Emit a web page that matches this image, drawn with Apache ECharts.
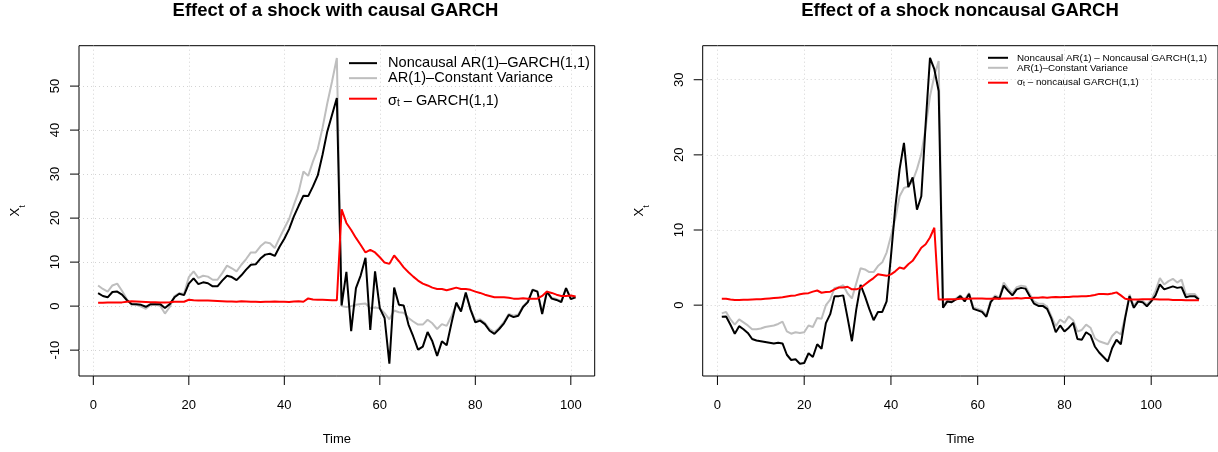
<!DOCTYPE html>
<html>
<head>
<meta charset="utf-8">
<script src="https://cdn.jsdelivr.net/npm/echarts@6/dist/echarts.min.js"></script>
<style>
  html, body { margin: 0; padding: 0; background: #ffffff; }
  #chart { width: 1218px; height: 452px; }
</style>
</head>
<body>
<div id="chart"></div>
<script>
// ---- Left panel: shock with causal GARCH (t = 1..101) ----
const causalNoncausalAR = [
  2.95, 2.3, 2.0, 3.2, 3.3, 2.6, 1.4, 0.5, 0.45, 0.3,
  -0.15, 0.45, 0.45, 0.45, -0.45, 0.45, 2.0, 2.8, 2.5, 5.1,
  6.3, 5.0, 5.4, 5.2, 4.5, 4.5, 5.8, 6.9, 6.6, 5.9,
  7.0, 8.3, 9.4, 9.5, 10.8, 11.7, 11.9, 11.4, 13.5, 15.3,
  17.5, 20.4, 22.8, 25.1, 25.0, 27.2, 29.7, 34.4, 39.7, 43.5,
  47.3, 0.15, 7.8, -5.7, 4.1, 7.0, 11.0, -5.4, 7.9, -0.5,
  -2.7, -13.1, 4.2, 0.3, 0.15, -4.2, -6.9, -9.9, -9.2, -5.9,
  -8.0, -11.3, -8.0, -8.9, -3.9, 0.8, -1.2, 3.1, -0.8, -3.7,
  -3.3, -4.1, -5.6, -6.3, -5.2, -3.9, -2.0, -2.5, -2.2, -0.2,
  0.9, 3.7, 3.3, -1.8, 3.3, 1.7, 1.4, 0.9, 4.1, 1.6,
  2.0
];
const causalConstVar = [
  4.7, 3.9, 3.3, 4.7, 5.1, 3.5, 1.6, 0.3, 0.3, -0.1,
  -0.6, 0.3, 0.3, 0.1, -1.7, -0.2, 2.3, 2.95, 2.8, 6.6,
  7.9, 6.4, 6.9, 6.7, 6.0, 6.0, 7.5, 9.2, 8.6, 7.9,
  9.4, 10.7, 12.2, 12.2, 13.6, 14.5, 14.3, 13.2, 15.5, 17.7,
  19.8, 23.0, 26.0, 30.6, 29.6, 32.9, 35.7, 40.5, 46.1, 51.1,
  56.4, 0.0, -0.2, 0.0, 0.3, 0.5, 0.6, -0.5, -0.3, -0.5,
  -1.6, -3.0, -1.0, -1.4, -1.5, -2.7, -3.5, -4.2, -4.2, -3.1,
  -3.9, -5.2, -4.1, -4.5, -2.3, 0.3, -0.9, 2.7, -0.6, -3.3,
  -3.0, -3.8, -5.2, -5.9, -4.9, -3.6, -1.8, -2.2, -1.9, 0.0,
  1.1, 3.8, 3.4, -1.5, 3.4, 1.9, 1.6, 1.2, 4.1, 1.9,
  2.2
];
const causalSigma = [
  0.75, 0.75, 0.8, 0.8, 0.8, 0.85, 1.0, 1.1, 1.05, 1.0,
  0.95, 0.9, 0.9, 0.85, 0.85, 0.9, 1.0, 1.0, 1.0, 1.45,
  1.35, 1.3, 1.3, 1.25, 1.2, 1.15, 1.1, 1.05, 1.05, 1.0,
  1.1, 1.05, 1.0, 1.0, 0.95, 1.0, 1.0, 1.05, 1.0, 1.0,
  0.95, 1.05, 1.1, 1.0, 1.75, 1.5, 1.45, 1.45, 1.4, 1.35,
  1.35, 22.0, 18.9, 17.3, 15.5, 13.9, 12.2, 12.8, 12.2, 11.1,
  9.9, 9.6, 11.5, 10.2, 8.8, 7.7, 6.7, 5.8, 5.1, 4.7,
  4.2, 3.9, 3.9, 3.6, 3.9, 4.2, 3.9, 3.9, 3.7, 3.3,
  3.0, 2.6, 2.3, 2.0, 2.0, 2.0, 1.9, 1.7, 1.7, 1.8,
  1.7, 1.7, 1.7, 2.3, 3.3, 3.0, 2.6, 2.3, 2.3, 2.4,
  2.2
];

// ---- Right panel: shock with noncausal GARCH (t = 1..111) ----
const ncNoncausalAR = [
  -1.55, -1.5, -2.6, -3.8, -2.8, -3.2, -3.7, -4.5, -4.7, -4.8,
  -4.9, -5.0, -5.1, -5.0, -5.1, -6.6, -7.3, -7.2, -7.8, -7.7,
  -6.4, -6.9, -5.2, -5.8, -2.4, -1.2, 1.2, 1.2, 1.3, -1.7,
  -4.8, -0.6, 2.7, 1.2, -0.5, -2.0, -0.9, -0.9, 0.5, 6.5,
  13.0, 18.1, 21.6, 15.7, 17.0, 12.7, 14.5, 24.1, 32.9, 31.4,
  28.5, -0.35, 0.5, 0.4, 0.75, 1.2, 0.5, 1.5, -0.5, -0.7,
  -0.9, -1.55, 0.4, 1.1, 0.85, 2.6, 1.9, 1.3, 2.1, 2.3,
  2.2, 1.2, 0.2, -0.1, -0.1, -0.5, -1.8, -3.6, -2.7, -3.5,
  -3.0, -2.35, -4.5, -4.6, -3.6, -4.0, -5.5, -6.3, -6.9, -7.5,
  -5.7, -4.6, -5.2, -1.7, 1.2, -0.35, 0.5, 0.4, -0.15, 0.5,
  1.3, 2.75, 2.1, 2.3, 2.5, 2.3, 2.4, 1.05, 1.2, 1.2,
  0.75
];
const ncConstVar = [
  -1.1, -0.9, -1.9, -2.6, -1.9, -2.3, -2.7, -3.2, -3.2, -3.1,
  -2.9, -2.8, -2.7, -2.5, -2.2, -3.5, -3.8, -3.6, -3.7, -3.6,
  -2.7, -2.9, -1.7, -1.8, 0.0, 0.75, 2.3, 2.4, 2.65, 1.55,
  0.9, 2.9, 4.9, 4.75, 4.4, 4.4, 5.2, 5.7, 7.0, 9.2,
  11.5, 14.5, 15.6, 15.8, 16.5, 18.1, 20.1, 23.6, 27.8, 30.5,
  32.5, 0.0, 0.6, 0.6, 0.9, 1.3, 0.7, 1.6, -0.3, -0.5,
  -0.7, -1.3, 0.6, 1.3, 1.0, 3.0, 2.2, 1.6, 2.4, 2.6,
  2.5, 1.5, 0.5, 0.2, 0.2, -0.2, -1.5, -2.8, -1.9, -2.35,
  -1.5, -2.0, -3.5, -3.3, -2.6, -3.0, -4.4, -4.8, -5.0, -5.2,
  -4.1, -3.5, -3.9, -1.5, 1.4, -0.1, 0.7, 0.6, 0.1, 0.7,
  1.9, 3.6, 2.75, 3.2, 3.5, 3.0, 3.4, 1.4, 1.5, 1.5,
  0.85
];
const ncSigma = [
  0.85, 0.85, 0.75, 0.7, 0.7, 0.72, 0.72, 0.75, 0.78, 0.8,
  0.85, 0.9, 0.95, 1.0, 1.05, 1.15, 1.25, 1.3, 1.45, 1.55,
  1.6, 1.8, 1.95, 1.65, 1.75, 1.8, 2.1, 2.35, 2.35, 2.45,
  2.1, 2.1, 2.3, 2.75, 3.2, 3.6, 4.1, 4.0, 3.9, 4.1,
  4.5, 5.0, 4.85, 5.45, 5.9, 6.75, 7.65, 8.1, 9.0, 10.3,
  0.75, 0.75, 0.8, 0.8, 0.8, 0.85, 0.85, 0.85, 0.9, 0.9,
  0.9, 0.85, 0.85, 0.9, 0.85, 0.9, 0.9, 0.9, 0.95, 0.9,
  0.95, 0.95, 1.0, 1.0, 1.05, 1.0, 1.05, 1.1, 1.05, 1.1,
  1.1, 1.15, 1.15, 1.2, 1.2, 1.25, 1.35, 1.5, 1.5, 1.45,
  1.55, 1.7, 1.3, 0.85, 0.75, 0.75, 0.75, 0.8, 0.8, 0.8,
  0.8, 0.75, 0.75, 0.75, 0.7, 0.7, 0.7, 0.65, 0.65, 0.65,
  0.65
];

// ---- Tick labels ----
const xTicksLeft = [0, 20, 40, 60, 80, 100];
const yTicksLeft = [-10, 0, 10, 20, 30, 40, 50];
const xTicksRight = [0, 20, 40, 60, 80, 100];
const yTicksRight = [0, 10, 20, 30];

// ---- Legend entries ----
const legendLeft = ['Noncausal AR(1)–GARCH(1,1)', 'AR(1)–Constant Variance', 'σt – GARCH(1,1)'];
const legendRight = ['Noncausal AR(1) – Noncausal GARCH(1,1)', 'AR(1)–Constant Variance', 'σt – noncausal GARCH(1,1)'];

const FONT = '"Liberation Sans", Arial, Helvetica, sans-serif';
const BLACK = '#000000', GREY = '#bebebe', RED = '#ff0000';
const TICK_LEN = 9;

// axis limits padded by 4% of the data range on each side
function paddedRange(lo, hi) {
  const d = (hi - lo) * 0.04;
  return [lo - d, hi + d];
}
function seriesRange(arrs) {
  const all = [].concat(...arrs);
  return paddedRange(Math.min(...all), Math.max(...all));
}
const toPairs = arr => arr.map((v, i) => [i + 1, v]);

const xRangeL = paddedRange(1, causalNoncausalAR.length);
const yRangeL = seriesRange([causalNoncausalAR, causalConstVar, causalSigma]);
const xRangeR = paddedRange(1, ncNoncausalAR.length);
const yRangeR = seriesRange([ncNoncausalAR, ncConstVar, ncSigma]);

// plot regions
const mainL = { left: 79, top: 45.7, width: 515.7, height: 330.3 };
const mainR = { left: 702.7, top: 45.7, width: 515.3, height: 330.3 };

// Tick axes span only from the first to the last tick (as base-graphics axis() does).
// gx/gy carry the labels and the dotted reference grid; sx/sy are thin strips just
// outside the frame that hold the tick marks.
function tickGrids(main, xr, yr, xt, yt) {
  const x0 = xt[0], x1 = xt[xt.length - 1], y0 = yt[0], y1 = yt[yt.length - 1];
  const left = main.left + (x0 - xr[0]) / (xr[1] - xr[0]) * main.width;
  const width = (x1 - x0) / (xr[1] - xr[0]) * main.width;
  const top = main.top + (yr[1] - y1) / (yr[1] - yr[0]) * main.height;
  const height = (y1 - y0) / (yr[1] - yr[0]) * main.height;
  return {
    gx: { left, width, top: main.top, height: main.height },
    gy: { left: main.left, width: main.width, top, height },
    sx: { left, width, top: main.top + main.height, height: TICK_LEN },
    sy: { left: main.left - TICK_LEN, width: TICK_LEN, top, height }
  };
}
const tgL = tickGrids(mainL, xRangeL, yRangeL, xTicksLeft, yTicksLeft);
const tgR = tickGrids(mainR, xRangeR, yRangeR, xTicksRight, yTicksRight);

const dottedGrid = { show: true, lineStyle: { color: '#d3d3d3', type: [1, 3], width: 1 } };
const off = { axisLine: { show: false, onZero: false }, axisTick: { show: false } };

function mainX(gridIndex, range) {
  return Object.assign({
    type: 'value', gridIndex, min: range[0], max: range[1],
    name: 'Time', nameLocation: 'middle', nameGap: 57,
    nameTextStyle: { fontFamily: FONT, fontSize: 13, color: BLACK },
    axisLabel: { show: false }, splitLine: { show: false }
  }, off);
}
function mainY(gridIndex, range) {
  return Object.assign({
    type: 'value', gridIndex, min: range[0], max: range[1],
    name: '{x|X}{s|t}', nameLocation: 'middle', nameGap: 54, nameRotate: 90,
    nameTextStyle: {
      rich: {
        x: { fontFamily: FONT, fontSize: 13, color: BLACK, lineHeight: 16, verticalAlign: 'top' },
        s: { fontFamily: FONT, fontSize: 9, color: BLACK, lineHeight: 10, padding: [9, 0, 0, 0], verticalAlign: 'top' }
      }
    },
    axisLabel: { show: false }, splitLine: { show: false }
  }, off);
}
function labelX(gridIndex, ticks) {
  return Object.assign({
    type: 'value', gridIndex, min: ticks[0], max: ticks[ticks.length - 1], interval: ticks[1] - ticks[0],
    axisLabel: { margin: 23, fontFamily: FONT, fontSize: 13, color: BLACK },
    splitLine: dottedGrid
  }, off);
}
function labelY(gridIndex, ticks) {
  return Object.assign({
    type: 'value', gridIndex, min: ticks[0], max: ticks[ticks.length - 1], interval: ticks[1] - ticks[0],
    axisLabel: { rotate: 90, margin: 17, fontFamily: FONT, fontSize: 13, color: BLACK },
    splitLine: dottedGrid
  }, off);
}
function stripAxis(gridIndex, ticks) {
  return Object.assign({
    type: 'value', gridIndex, min: ticks[0], max: ticks[ticks.length - 1],
    axisLabel: { show: false }, splitLine: { show: false }
  }, off);
}
const unit = gridIndex => Object.assign({ type: 'value', gridIndex, show: false, min: 0, max: 1,
  axisLabel: { show: false }, splitLine: { show: false } }, off);

// tick marks: one short segment per tick value, broken apart by empty points
function tickSeries(idx, ticks, horizontal) {
  const data = [];
  ticks.forEach(v => {
    if (horizontal) data.push([v, 0], [v, 1], [v, null]);
    else data.push([0, v], [1, v], [null, v]);
  });
  return {
    type: 'line', xAxisIndex: idx, yAxisIndex: idx, data, connectNulls: false,
    showSymbol: false, symbol: 'none', silent: true, clip: false, z: 5,
    lineStyle: { color: BLACK, width: 1 }
  };
}

function lineSeries(name, idx, arr, color, z) {
  return {
    name, type: 'line', xAxisIndex: idx, yAxisIndex: idx, data: toPairs(arr),
    showSymbol: false, symbol: 'none', z, silent: true,
    lineStyle: { color, width: 2 }, itemStyle: { color }
  };
}
function legendFormatter(name) {
  if (name.indexOf('σt') === 0) return '{m|σ}{s|t}{m|' + name.slice(2) + '}';
  return '{n|' + name + '}';
}
function legendBlock(names, left, top, iconW, gapPad, rich) {
  return {
    data: names, orient: 'vertical', left, top, padding: 0, itemGap: 0,
    icon: 'rect', itemWidth: iconW, itemHeight: 2, selectedMode: false,
    formatter: legendFormatter,
    textStyle: { fontFamily: FONT, color: BLACK, padding: [0, 0, 0, gapPad], rich }
  };
}
const richLeft = {
  n: { fontFamily: FONT, fontSize: 14.6, color: BLACK, lineHeight: 16.7 },
  m: { fontFamily: FONT, fontSize: 14.6, color: BLACK, lineHeight: 20, padding: [4.5, 0, 0, 0], verticalAlign: 'top' },
  s: { fontFamily: FONT, fontSize: 10, color: BLACK, lineHeight: 20, padding: [10, 0, 0, 0], verticalAlign: 'top' }
};
const richRight = {
  n: { fontFamily: FONT, fontSize: 9.8, color: BLACK, lineHeight: 11 },
  m: { fontFamily: FONT, fontSize: 9.8, color: BLACK, lineHeight: 14, padding: [1.5, 0, 0, 0], verticalAlign: 'top' },
  s: { fontFamily: FONT, fontSize: 7, color: BLACK, lineHeight: 14, padding: [5, 0, 0, 0], verticalAlign: 'top' }
};

const frame = g => Object.assign({ show: true, borderColor: BLACK, borderWidth: 1, backgroundColor: 'transparent' }, g);
const plain = g => Object.assign({ show: false }, g);

// per panel: 0 main, 1 label-x, 2 label-y, 3 tick strip x, 4 tick strip y
function panelGrids(main, tg) {
  return [frame(main), plain(tg.gx), plain(tg.gy), plain(tg.sx), plain(tg.sy)];
}
function panelXAxes(b, xr, xt) {
  return [mainX(b, xr), labelX(b + 1, xt), unit(b + 2), stripAxis(b + 3, xt), unit(b + 4)];
}
function panelYAxes(b, yr, yt) {
  return [mainY(b, yr), unit(b + 1), labelY(b + 2, yt), unit(b + 3), stripAxis(b + 4, yt)];
}

const option = {
  animation: false,
  backgroundColor: '#ffffff',
  title: [
    { text: 'Effect of a shock with causal GARCH', left: 335.5, top: 1, padding: 0, textAlign: 'center',
      textStyle: { fontFamily: FONT, fontWeight: 'bold', fontSize: 18.5, color: BLACK } },
    { text: 'Effect of a shock noncausal GARCH', left: 960, top: 1, padding: 0, textAlign: 'center',
      textStyle: { fontFamily: FONT, fontWeight: 'bold', fontSize: 18.5, color: BLACK } }
  ],
  grid: panelGrids(mainL, tgL).concat(panelGrids(mainR, tgR)),
  legend: [
    legendBlock(legendLeft.slice(0, 2), 349, 55.65, 28, 6, richLeft),
    legendBlock(legendLeft.slice(2), 349, 88.7, 28, 6, richLeft),
    legendBlock(legendRight.slice(0, 2), 988, 52.8, 20, 4, richRight),
    legendBlock(legendRight.slice(2), 988, 75.7, 20, 4, richRight)
  ],
  xAxis: panelXAxes(0, xRangeL, xTicksLeft).concat(panelXAxes(5, xRangeR, xTicksRight)),
  yAxis: panelYAxes(0, yRangeL, yTicksLeft).concat(panelYAxes(5, yRangeR, yTicksRight)),
  series: [
    lineSeries(legendLeft[1], 0, causalConstVar, GREY, 2),
    lineSeries(legendLeft[0], 0, causalNoncausalAR, BLACK, 3),
    lineSeries(legendLeft[2], 0, causalSigma, RED, 4),
    tickSeries(3, xTicksLeft, true),
    tickSeries(4, yTicksLeft, false),
    lineSeries(legendRight[1], 5, ncConstVar, GREY, 2),
    lineSeries(legendRight[0], 5, ncNoncausalAR, BLACK, 3),
    lineSeries(legendRight[2], 5, ncSigma, RED, 4),
    tickSeries(8, xTicksRight, true),
    tickSeries(9, yTicksRight, false)
  ]
};

const chart = echarts.init(document.getElementById('chart'), null, { renderer: 'canvas' });
chart.setOption(option);
</script>
</body>
</html>
